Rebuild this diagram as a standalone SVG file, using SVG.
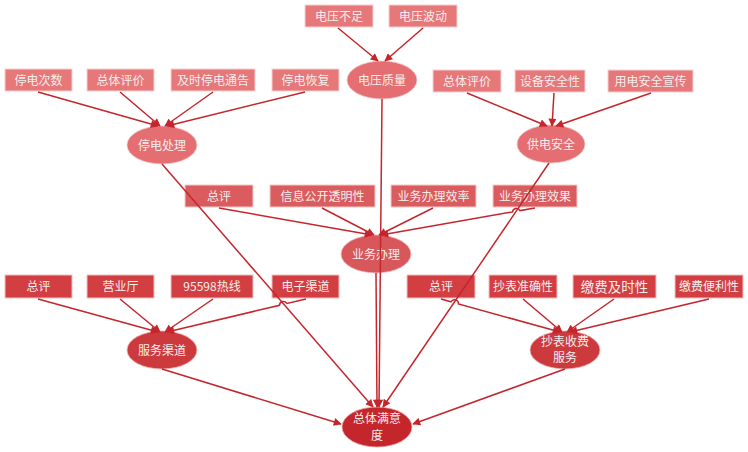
<svg xmlns="http://www.w3.org/2000/svg" width="748" height="452" viewBox="0 0 748 452">
<defs>
<marker id="ah" viewBox="0 0 10 10" refX="9" refY="5" markerWidth="9" markerHeight="8" markerUnits="userSpaceOnUse" orient="auto">
<path d="M0,0 L10,5 L0,10 z" fill="#C4262B"/>
</marker>
</defs>
<style>
text{font-family:"Noto Sans CJK SC","Noto Sans",sans-serif;font-size:12px;fill:#f3eeee;text-anchor:middle}
.b1{fill:#E6787A;stroke:#F7D0D0;stroke-width:1}
.b2{fill:#DA5C5F;stroke:#F5C8C8;stroke-width:1}
.b3{fill:#D23E42;stroke:#F2C0C0;stroke-width:1}
.e1{fill:#E46E71;stroke:#F3C5C5;stroke-width:0.8}
.e2{fill:#D8575A;stroke:#F0BDBD;stroke-width:0.8}
.e3{fill:#CD3A3E;stroke:#EDB3B3;stroke-width:0.8}
.e4{fill:#C4262B;stroke:#E8A8A8;stroke-width:0.8}
.c{fill:none;stroke:#C4262B;stroke-width:1.5;marker-end:url(#ah)}
</style>
<rect width="748" height="452" fill="#ffffff"/>

<g id="n-dybz"><rect class="b1" x="305" y="5" width="68" height="22"/><text x="339" y="20.5">电压不足</text></g>
<g id="n-dybd"><rect class="b1" x="389" y="5" width="68" height="22"/><text x="423" y="20.5">电压波动</text></g>
<g id="n-dyzl"><ellipse class="e1" cx="382" cy="80" rx="35" ry="19"/><text x="382" y="84.5">电压质量</text></g>

<g id="n-tdcs"><rect class="b1" x="5" y="69" width="67" height="22"/><text x="38.5" y="84.5">停电次数</text></g>
<g id="n-ztpj1"><rect class="b1" x="87" y="69" width="67" height="22"/><text x="120.5" y="84.5">总体评价</text></g>
<g id="n-jstd"><rect class="b1" x="171" y="69" width="84" height="22"/><text x="213" y="84.5">及时停电通告</text></g>
<g id="n-tdhf"><rect class="b1" x="272" y="69" width="67" height="22"/><text x="305.5" y="84.5">停电恢复</text></g>
<g id="n-tdcl"><ellipse class="e1" cx="162" cy="145" rx="35" ry="19"/><text x="162" y="149.5">停电处理</text></g>

<g id="n-ztpj2"><rect class="b1" x="433" y="70" width="68" height="22"/><text x="467" y="85.5">总体评价</text></g>
<g id="n-sbaq"><rect class="b1" x="515" y="70" width="70" height="22"/><text x="550" y="85.5">设备安全性</text></g>
<g id="n-ydaq"><rect class="b1" x="608" y="70" width="85" height="22"/><text x="650.5" y="85.5">用电安全宣传</text></g>
<g id="n-gdaq"><ellipse class="e1" cx="551" cy="144" rx="34" ry="19"/><text x="551" y="148.5">供电安全</text></g>

<g id="n-zp1"><rect class="b2" x="185" y="185" width="68" height="22"/><text x="219" y="200.5">总评</text></g>
<g id="n-xxgk"><rect class="b2" x="270" y="185" width="105" height="22"/><text x="322.5" y="200.5">信息公开透明性</text></g>
<g id="n-ywxl"><rect class="b2" x="391" y="185" width="85" height="22"/><text x="433.5" y="200.5">业务办理效率</text></g>
<g id="n-ywxg"><rect class="b2" x="493" y="185" width="84" height="22"/><text x="535" y="200.5">业务办理效果</text></g>
<g id="n-ywbl"><ellipse class="e2" cx="376" cy="254" rx="35" ry="19"/><text x="376" y="258.5">业务办理</text></g>

<g id="n-zp2"><rect class="b3" x="5" y="275" width="67" height="23"/><text x="38.5" y="291">总评</text></g>
<g id="n-yyt"><rect class="b3" x="87" y="275" width="67" height="23"/><text x="120.5" y="291">营业厅</text></g>
<g id="n-rx"><rect class="b3" x="171" y="275" width="82" height="23"/><text x="212" y="291">95598热线</text></g>
<g id="n-dzqd"><rect class="b3" x="272" y="275" width="67" height="23"/><text x="305.5" y="291">电子渠道</text></g>
<g id="n-fwqd"><ellipse class="e3" cx="162" cy="350" rx="35" ry="19"/><text x="162" y="354.5">服务渠道</text></g>

<g id="n-zp3"><rect class="b3" x="407" y="275" width="68" height="23"/><text x="441" y="291">总评</text></g>
<g id="n-cbzq"><rect class="b3" x="489" y="275" width="68" height="23"/><text x="523" y="291">抄表准确性</text></g>
<g id="n-jfjs"><rect class="b3" x="573" y="275" width="83" height="23"/><text x="614.5" y="291.5" style="font-size:13.5px">缴费及时性</text></g>
<g id="n-jfbl"><rect class="b3" x="675" y="275" width="68" height="23"/><text x="709" y="291">缴费便利性</text></g>
<g id="n-cbsf"><ellipse class="e3" cx="565" cy="350" rx="35" ry="19"/><text x="565" y="346">抄表收费</text><text x="565" y="362">服务</text></g>

<g id="n-ztmyd"><ellipse class="e4" cx="377" cy="427" rx="35" ry="20"/><text x="377" y="423">总体满意</text><text x="377" y="440">度</text></g>

<g id="connectors">
<path class="c" d="M338,28 L378,61"/>
<path class="c" d="M423,28 L385,61"/>

<path class="c" d="M38,92 L158,126"/>
<path class="c" d="M120,92 L160,126"/>
<path class="c" d="M213,92 L165,126"/>
<path class="c" d="M305,92 L167,126"/>

<path class="c" d="M467,93 L547,126"/>
<path class="c" d="M554,93 L552,126"/>
<path class="c" d="M651,93 L556,126"/>

<path class="c" d="M219,208 L372,235"/>
<path class="c" d="M322,208 L374,235"/>
<path class="c" d="M433,208 L379,235"/>
<path class="c" d="M535,208 L520,210.6 A4,4 0 0 0 512.5,211.9 L381,235"/>

<path class="c" d="M38,299 L158,332"/>
<path class="c" d="M120,299 L160,332"/>
<path class="c" d="M213,299 L165,332"/>
<path class="c" d="M306,299 L287,303.5 A4,4 0 0 0 279.5,305.3 L167,332"/>

<path class="c" d="M441,299 L451,301.8 A4,4 0 0 1 458.5,303.9 L560,332"/>
<path class="c" d="M523,299 L562,332"/>
<path class="c" d="M614,299 L567,332"/>
<path class="c" d="M709,299 L570,332"/>

<path class="c" d="M162,164 L373,407"/>
<path class="c" d="M382,99 L379,407"/>
<path class="c" d="M376,273 L377,407"/>
<path class="c" d="M549,163 L383,407"/>
<path class="c" d="M162,369 L341,424"/>
<path class="c" d="M565,369 L413,424"/>
</g>
</svg>
